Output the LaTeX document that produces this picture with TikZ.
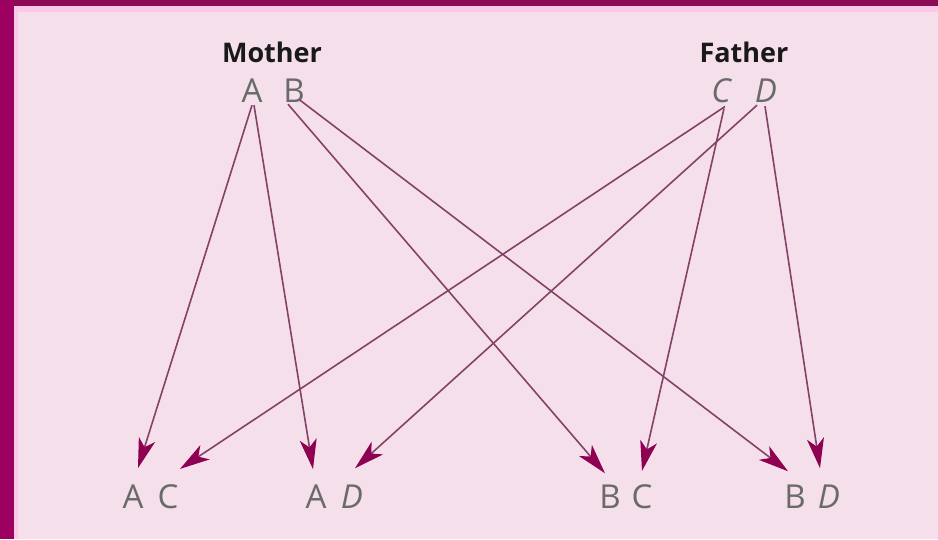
\documentclass[tikz,border=0pt]{standalone}
\usepackage{fontspec}
\setmainfont{Open Sans}
\usetikzlibrary{arrows.meta}
\definecolor{bg}{HTML}{F5DFEA}
\definecolor{frame}{HTML}{9C0060}
\definecolor{frametop}{HTML}{8A0A55}
\definecolor{band}{HTML}{FCC8E8}
\definecolor{ln}{HTML}{844266}
\definecolor{tipc}{HTML}{8E0052}
\definecolor{txt}{HTML}{6A6A6A}
\begin{document}
\begin{tikzpicture}[x=1pt,y=-1pt,
  letter/.style={font=\fontsize{33}{33}\selectfont, text=txt, inner sep=0pt, anchor=base},
  parent/.style={font=\fontsize{27}{27}\selectfont\bfseries, text=black!90, inner sep=0pt, anchor=base},
  link/.style={draw=ln, line width=1.6pt, -{Stealth[length=30pt,width=17pt,inset=8pt,color=tipc]}}]
\fill[bg] (0,0) rectangle (938,539);
\fill[band] (0,0) rectangle (938,12);
\fill[band] (0,0) rectangle (18,539);
\fill[frametop] (0,0) rectangle (938,6);
\fill[frame] (0,0) rectangle (14,539);
\useasboundingbox (0,0) rectangle (938,539);

\node[parent] (mother) at (272,62) {Mother};
\node[parent] (father) at (744,62) {Father};
\node[letter] (mA) at (252,102) {A};
\node[letter] (mB) at (294,102) {B};
\node[letter] (fC) at (721,102) {\itshape C};
\node[letter] (fD) at (766,102) {\itshape D};

\node[letter] (acA) at (133,508) {A};
\node[letter] (acC) at (168,508) {C};
\node[letter] (adA) at (316,508) {A};
\node[letter] (adD) at (352,508) {\itshape D};
\node[letter] (bcB) at (610,508) {B};
\node[letter] (bcC) at (642,508) {C};
\node[letter] (bdB) at (795,508) {B};
\node[letter] (bdD) at (829,508) {\itshape D};

\draw[link] ([yshift=-3pt]mA.south) -- ([xshift=5pt,yshift=16pt]acA.north);
\draw[link] ([xshift=2pt,yshift=-3pt]mA.south) -- ([xshift=-3pt,yshift=15pt]adA.north);
\draw[link] ([xshift=-6pt,yshift=-2pt]mB.south) -- ([xshift=-5pt,yshift=11pt]bcB.north);
\draw[link] ([xshift=6pt,yshift=2pt]mB.south) -- ([xshift=-7pt,yshift=13pt]bdB.north);
\draw[link] ([xshift=4pt,yshift=-4pt]fC.south) -- ([xshift=12pt,yshift=15pt]acC.north);
\draw[link] ([xshift=3pt,yshift=-6pt]fC.south) -- ([yshift=13pt]bcC.north);
\draw[link] ([xshift=-9pt,yshift=-3pt]fD.south) -- ([xshift=3pt,yshift=16pt]adD.north);
\draw[link] ([xshift=-1pt,yshift=-4pt]fD.south) -- ([xshift=-9pt,yshift=16pt]bdD.north);
\end{tikzpicture}
\end{document}
